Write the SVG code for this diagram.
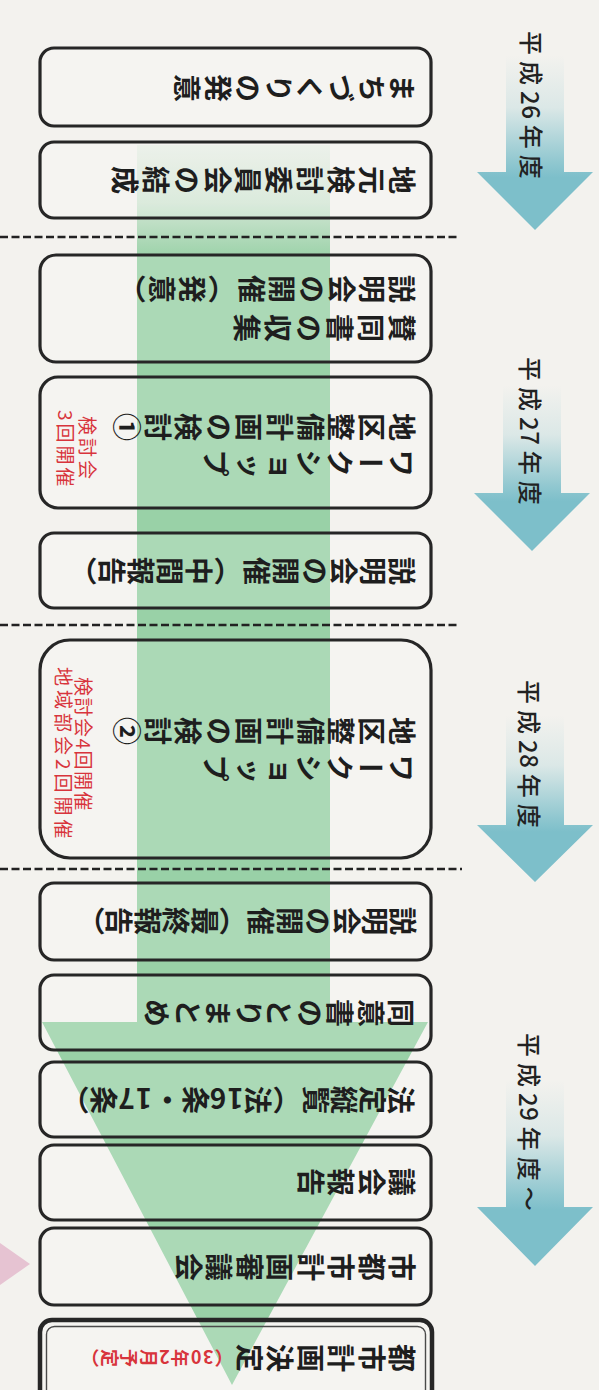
<svg xmlns="http://www.w3.org/2000/svg" width="599" height="1390" viewBox="0 0 599 1390">
<style>
.bx{fill:#ffffff;fill-opacity:0.18;stroke:#262626;stroke-width:3.2}
.t{font-family:"Noto Sans CJK JP","Noto Sans",sans-serif;font-size:28px;font-weight:700;fill:#1e1e1e;writing-mode:vertical-rl}
.yr{font-family:"Noto Sans CJK JP","Noto Sans",sans-serif;font-size:24px;font-weight:500;fill:#222;letter-spacing:6px}
.dg{letter-spacing:0.5px}
.red{font-family:"Noto Sans CJK JP","Noto Sans",sans-serif;font-size:19px;font-weight:400;fill:#d8343c}
.dash{stroke:#222;stroke-width:2.6;stroke-dasharray:8 3.5;fill:none}
.ya{fill:url(#yg)}
</style>
<defs>
<linearGradient id="yg" x1="0" y1="0" x2="0" y2="1">
<stop offset="0" stop-color="#7dbfca" stop-opacity="0"/>
<stop offset="0.3" stop-color="#7dbfca" stop-opacity="0.2"/>
<stop offset="0.62" stop-color="#7dbfca" stop-opacity="0.85"/>
<stop offset="0.7" stop-color="#7dbfca" stop-opacity="1"/>
</linearGradient>
<linearGradient id="gg" gradientUnits="userSpaceOnUse" x1="0" y1="145" x2="0" y2="260">
<stop offset="0" stop-color="#99d1a7" stop-opacity="0.12"/>
<stop offset="0.5" stop-color="#99d1a7" stop-opacity="0.35"/>
<stop offset="1" stop-color="#99d1a7" stop-opacity="1"/>
</linearGradient>
</defs>
<rect x="0" y="0" width="599" height="1390" fill="#f3f2ee"/>

<g id="year-arrows">
<g id="year-h26"><path class="ya" d="M506,55 H564 V172 H593 L535,230 L477,172 H506 Z"/><text class="yr" dominant-baseline="central" transform="translate(532,31) rotate(90)">平成<tspan class="dg">2</tspan>6年度</text></g>
<g id="year-h27"><path class="ya" d="M503,385 H561 V493 H590 L532,551 L474,493 H503 Z"/><text class="yr" dominant-baseline="central" transform="translate(531,357) rotate(90)">平成<tspan class="dg">2</tspan>7年度</text></g>
<g id="year-h28"><path class="ya" d="M506,715 H564 V825 H593 L535,882 L477,825 H506 Z"/><text class="yr" dominant-baseline="central" transform="translate(530,680) rotate(90)">平成<tspan class="dg">2</tspan>8年度</text></g>
<g id="year-h29"><path class="ya" d="M506,1080 H564 V1207 H593 L535,1266 L477,1207 H506 Z"/><text class="yr" dominant-baseline="central" transform="translate(530,1033) rotate(90)">平成<tspan class="dg">2</tspan>9年度～</text></g>
</g>

<g id="connectors">
<path id="flow-arrow" d="M137,145 H330 V1022 H428 L232,1385 L42,1022 H137 Z" fill="url(#gg)"/>
<polygon id="side-arrow" points="-10,1236 30,1264 -10,1292" fill="#e6c3d2"/>
</g>

<g id="dividers">
<line class="dash" x1="0" y1="237" x2="460" y2="237"/>
<line class="dash" x1="0" y1="625" x2="459" y2="625"/>
<line class="dash" x1="0" y1="869" x2="462" y2="869"/>
</g>

<g id="n1"><rect class="bx" x="40" y="48" width="391" height="78" rx="14"/><text class="t" style="letter-spacing:2.8px" transform="translate(416,88) rotate(90)">まちづくりの発意</text></g>
<g id="n2"><rect class="bx" x="40" y="142" width="391" height="76" rx="14"/><text class="t" style="letter-spacing:2.8px" transform="translate(416,180) rotate(90)">地元検討委員会の結成</text></g>
<g id="n3"><rect class="bx" x="40" y="255" width="391" height="107" rx="16"/>
<text class="t" style="letter-spacing:2px" transform="translate(416,289) rotate(90)">説明会の開催（発意）</text>
<text class="t" style="letter-spacing:3px" transform="translate(416,328) rotate(90)">賛同書の収集</text></g>
<g id="n4"><rect class="bx" x="40" y="377" width="391" height="131" rx="18"/>
<text class="t" style="letter-spacing:2.6px" transform="translate(416,427) rotate(90)">地区整備計画の検討①</text>
<text class="t" style="letter-spacing:3px" transform="translate(416,463) rotate(90)">ワークショップ</text>
<text class="red" style="letter-spacing:3px" dominant-baseline="central" transform="translate(88,416) rotate(90)">検討会</text>
<text class="red" style="letter-spacing:3px" dominant-baseline="central" transform="translate(66,410) rotate(90)">3回開催</text></g>
<g id="n5"><rect class="bx" x="40" y="533" width="391" height="75" rx="14"/><text class="t" style="letter-spacing:1px" transform="translate(416,571) rotate(90)">説明会の開催（中間報告）</text></g>
<g id="n6"><rect class="bx" x="40" y="640" width="391" height="218" rx="30"/>
<text class="t" style="letter-spacing:2.6px" transform="translate(416,731) rotate(90)">地区整備計画の検討②</text>
<text class="t" style="letter-spacing:3px" transform="translate(416,768) rotate(90)">ワークショップ</text>
<text class="red" style="letter-spacing:1.5px" dominant-baseline="central" transform="translate(84,677) rotate(90)">検討会4回開催</text>
<text class="red" style="letter-spacing:4px" dominant-baseline="central" transform="translate(64,667) rotate(90)">地域部会2回開催</text></g>
<g id="n7"><rect class="bx" x="40" y="883" width="391" height="77" rx="14"/><text class="t" style="letter-spacing:0.4px" transform="translate(417,921) rotate(90)">説明会の開催（最終報告）</text></g>
<g id="n8"><rect class="bx" x="40" y="975" width="391" height="75" rx="14"/><text class="t" style="letter-spacing:2.5px" transform="translate(415,1013) rotate(90)">同意書のとりまとめ</text></g>
<g id="n9"><rect class="bx" x="40" y="1062" width="391" height="75" rx="14"/><text class="t" style="letter-spacing:0.6px" transform="translate(415,1100) rotate(90)">法定縦覧（法16条・17条）</text></g>
<g id="n10"><rect class="bx" x="40" y="1145" width="391" height="75" rx="14"/><text class="t" style="letter-spacing:2.5px" transform="translate(416,1182) rotate(90)">議会報告</text></g>
<g id="n11"><rect class="bx" x="40" y="1228" width="391" height="77" rx="14"/><text class="t" style="letter-spacing:2.5px" transform="translate(416,1267) rotate(90)">市都市計画審議会</text></g>
<g id="n12"><rect class="bx" x="40" y="1320" width="392" height="100" rx="12" style="stroke-width:4.5"/>
<rect x="46.5" y="1326.5" width="379" height="90" rx="8" fill="none" stroke="#4a4a4a" stroke-width="1.4"/>
<text class="t" style="letter-spacing:2.5px" transform="translate(416,1358) rotate(90)">都市計画決定<tspan style="fill:#d8343c;font-size:18px;letter-spacing:1.5px">（30年2月予定）</tspan></text></g>
</svg>
